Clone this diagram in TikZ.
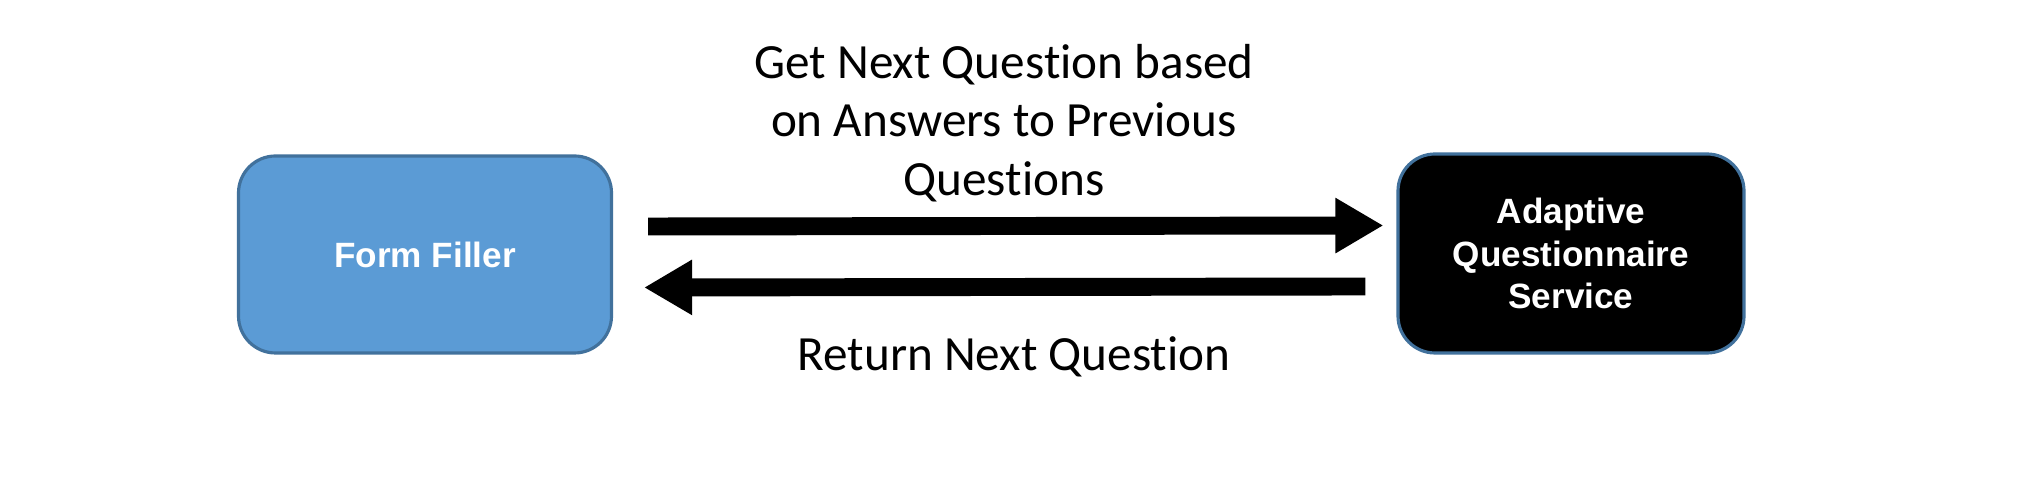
\documentclass[tikz,border=0pt]{standalone}
\usepackage{fontspec}
\setmainfont{Carlito}[Ligatures=NoCommon]
\newfontfamily\boxfont{Liberation Sans}
\usepackage{xcolor}
\usepackage{tikz}
\usetikzlibrary{arrows.meta, positioning}
\definecolor{FillerBlue}{RGB}{91,155,213}
\definecolor{EdgeBlue}{RGB}{65,113,156}

\tikzset{
  box/.style={draw=EdgeBlue, line width=0.9pt, rounded corners=0.37cm,
              align=center, text=white,
              font=\boxfont\bfseries\fontsize{10}{12.2}\selectfont},
  flow/.style={line width=5.1pt, -{Triangle[length=0.48cm, width=0.52cm]}},
  lbl/.style={align=center, font=\fontsize{14}{16.7}\selectfont}
}

\begin{document}
\begin{tikzpicture}
  \useasboundingbox (0,0) rectangle (20.26,4.97);
  \fill[white] (0,0) rectangle (20.26,4.97);

  % the two parties
  \node[box, fill=FillerBlue, minimum width=3.73cm, minimum height=1.97cm]
    (filler) at (4.25,2.425) {Form Filler};
  \node[box, fill=black, minimum width=3.46cm, minimum height=1.99cm]
    (service) at (15.71,2.435) {Adaptive\\Questionnaire\\Service};

  % request and reply
  \draw[flow] ([xshift=0.35cm, yshift=0.28cm]filler.east)
    -- ([xshift=-0.13cm, yshift=0.28cm]service.west);
  \draw[flow] ([xshift=-0.31cm, yshift=-0.33cm]service.west)
    -- ([xshift=0.31cm, yshift=-0.33cm]filler.east);

  % labels
  \node[lbl] (asklbl) at (10.04,3.74)
    {Get Next Question based\\on Answers to Previous\\Questions};
  \node[lbl] (replylbl) at (10.14,1.40) {Return Next Question};
\end{tikzpicture}
\end{document}
